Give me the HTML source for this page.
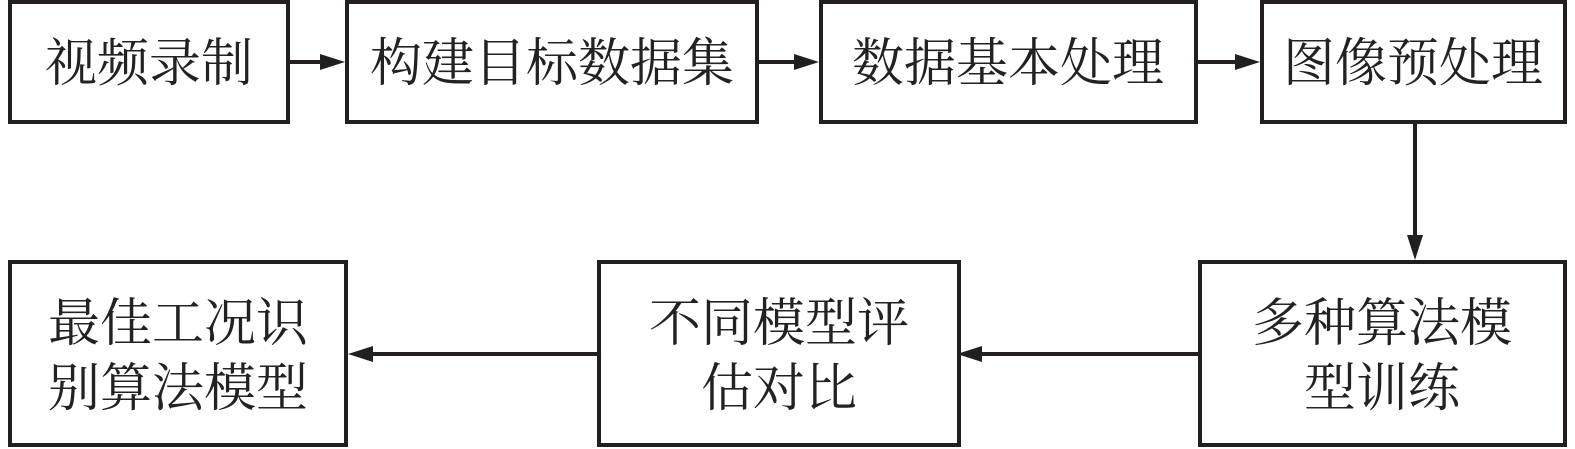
<!DOCTYPE html>
<html><head><meta charset="utf-8"><style>
html,body{margin:0;padding:0;background:#fff;}
svg{display:block}
text{font-family:"Liberation Serif","Noto Serif CJK SC",serif;font-size:52px;fill:#222;text-anchor:middle;}
</style></head><body>
<svg width="1575" height="449" viewBox="0 0 1575 449" xmlns="http://www.w3.org/2000/svg">
<g fill="none" stroke="#231f20" stroke-width="4">
<rect x="10" y="2" width="278" height="120"/>
<rect x="347" y="2" width="410" height="120"/>
<rect x="821" y="2" width="375" height="120"/>
<rect x="1262" y="2" width="303" height="120"/>
<rect x="10" y="262" width="336" height="183"/>
<rect x="599" y="262" width="360" height="183"/>
<rect x="1200" y="262" width="365" height="183"/>
<line x1="290" y1="62" x2="325" y2="62"/>
<line x1="759" y1="62" x2="799" y2="62"/>
<line x1="1198" y1="62" x2="1240" y2="62"/>
<line x1="1415" y1="124" x2="1415" y2="240"/>
<line x1="1198" y1="354" x2="978" y2="354"/>
<line x1="597" y1="354" x2="368" y2="354"/>
</g>
<g fill="#231f20">
<polygon points="345,62 320,54 320,70"/>
<polygon points="819,62 794,54 794,70"/>
<polygon points="1260,62 1235,54 1235,70"/>
<polygon points="1415,260 1407,235 1423,235"/>
<polygon points="957,354 982,346 982,362"/>
<polygon points="348,354 373,346 373,362"/>
</g>
<text x="149" y="81">视频录制</text>
<text x="552" y="81">构建目标数据集</text>
<text x="1008" y="81">数据基本处理</text>
<text x="1413" y="81">图像预处理</text>
<text x="1382" y="341">多种算法模</text>
<text x="1382" y="406">型训练</text>
<text x="779" y="341">不同模型评</text>
<text x="779" y="406">估对比</text>
<text x="178" y="341">最佳工况识</text>
<text x="178" y="406">别算法模型</text>
</svg>
</body></html>
